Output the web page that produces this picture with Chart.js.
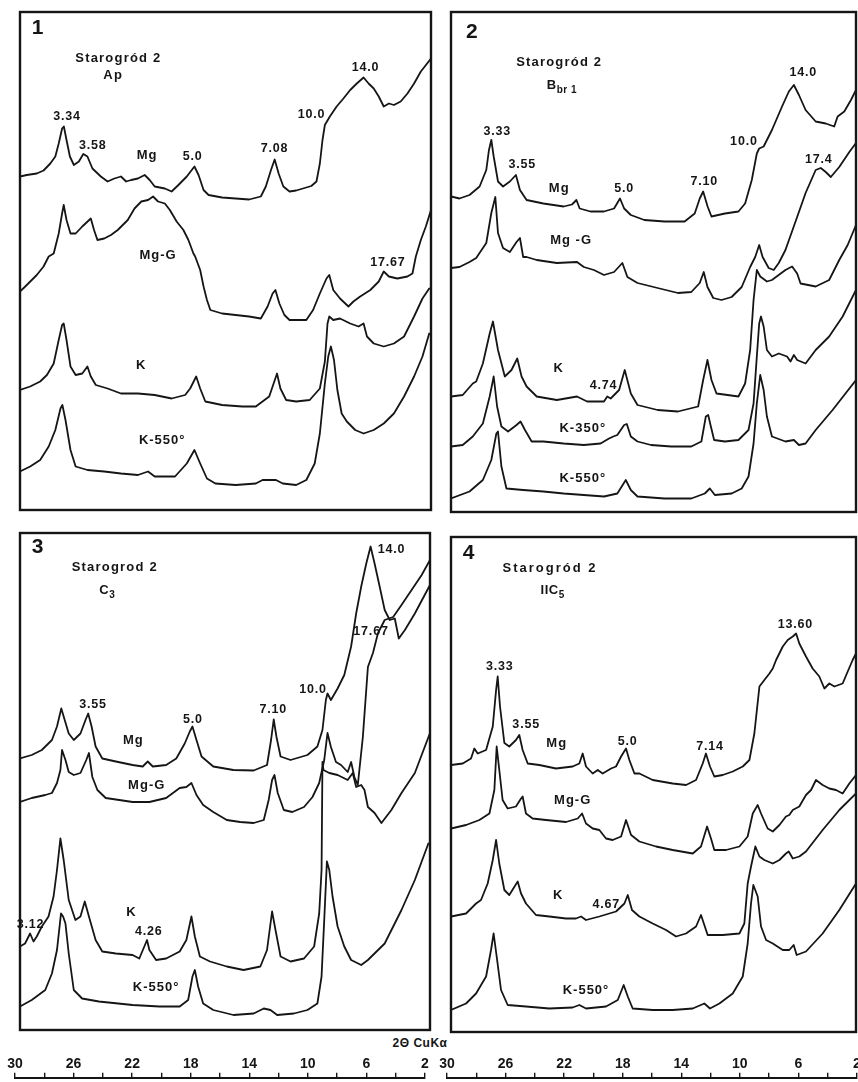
<!DOCTYPE html>
<html>
<head>
<meta charset="utf-8">
<title>Starogród 2 – X-ray diffractograms</title>
<script src="https://cdn.jsdelivr.net/npm/chart.js@4.4.1/dist/chart.umd.min.js"></script>
<style>
  html, body { margin: 0; padding: 0; background: #fff; }
  #fig { position: relative; width: 858px; height: 1082px; overflow: hidden; background: #fff; }
  #fig canvas { position: absolute; }
  #caption {
    position: absolute; left: 370px; top: 1036px; width: 100px; text-align: center;
    font: bold 12px "Liberation Sans", Arial, sans-serif; color: #151515; letter-spacing: 0.5px;
  }
</style>
</head>
<body>
<div id="fig"><div id="caption">2Θ CuKα</div></div>
<script>
// ---- Diffractogram traces: [2θ (deg, Cu Kα), relative intensity] ----

// Panel 1 – Starogród 2, Ap
const p1Mg = [[29.65,66.7],[29.19,67.0],[28.51,67.3],[28.05,67.9],[27.59,69.3],[27.25,70.7],[27.02,73.3],[26.79,76.3],[26.67,76.7],[26.49,74.0],[26.26,70.7],[25.99,69.0],[25.65,69.7],[25.35,71.2],[25.07,70.7],[24.73,68.3],[24.16,66.7],[23.70,65.7],[23.24,66.3],[22.79,66.7],[22.44,65.7],[22.10,66.0],[21.64,66.3],[21.18,67.0],[20.84,66.0],[20.50,64.7],[19.81,64.3],[19.35,63.7],[18.89,65.0],[18.32,66.7],[17.80,68.7],[17.52,67.0],[17.18,64.0],[16.84,63.0],[15.92,62.5],[15.00,62.3],[14.09,62.1],[13.29,62.7],[12.95,64.7],[12.60,68.0],[12.35,70.1],[12.08,67.3],[11.76,64.7],[11.34,63.7],[10.89,63.9],[10.43,64.3],[9.86,64.8],[9.51,65.7],[9.28,69.3],[9.10,74.0],[8.94,77.0],[8.60,78.7],[8.14,80.7],[7.68,82.3],[7.22,84.0],[6.77,85.3],[6.31,86.5],[5.97,85.3],[5.62,84.3],[5.28,82.7],[4.94,80.7],[4.59,81.3],[4.25,81.0],[3.79,81.7],[3.33,83.3],[2.88,85.3],[2.42,87.7],[1.73,90.3]];
const p1MgG = [[29.65,43.7],[29.19,45.0],[28.51,47.0],[28.05,48.7],[27.70,50.7],[27.36,51.3],[27.02,55.3],[26.79,59.3],[26.68,61.0],[26.49,58.0],[26.22,55.3],[25.87,55.3],[25.42,56.7],[24.84,58.3],[24.62,56.0],[24.39,54.0],[23.93,54.3],[23.47,55.0],[23.01,56.0],[22.33,58.0],[21.87,60.3],[21.41,61.7],[20.95,62.0],[20.61,62.7],[20.27,61.7],[19.81,61.3],[19.47,60.0],[19.01,57.7],[18.55,56.0],[18.21,54.0],[17.87,51.3],[17.75,50.7],[17.41,48.0],[17.18,44.7],[16.95,42.0],[16.72,40.0],[15.92,39.3],[15.00,39.0],[14.09,38.7],[13.29,38.3],[12.83,40.7],[12.49,43.3],[12.30,44.0],[12.03,41.3],[11.69,39.0],[11.34,38.0],[10.20,38.0],[9.74,40.0],[9.28,43.3],[8.83,46.3],[8.64,47.0],[8.37,44.0],[7.91,42.3],[7.34,40.7],[7.00,41.7],[6.54,42.7],[5.85,44.0],[5.28,45.7],[4.94,47.7],[4.59,46.7],[4.02,46.3],[3.33,46.7],[2.99,47.3],[2.76,50.7],[2.42,54.0],[2.08,56.7],[1.73,60.0]];
const p1K = [[29.65,24.0],[28.96,24.7],[28.28,25.7],[27.82,27.0],[27.36,29.3],[27.02,34.0],[26.79,37.0],[26.68,37.3],[26.49,34.0],[26.22,28.7],[25.87,27.0],[25.42,27.3],[25.07,28.7],[24.84,26.7],[24.50,25.0],[23.70,24.3],[22.79,23.3],[21.64,23.3],[20.50,23.0],[19.35,22.3],[18.43,23.0],[18.09,24.3],[17.68,26.7],[17.41,24.3],[17.06,21.7],[15.92,21.0],[14.55,20.7],[13.63,20.7],[12.72,22.7],[12.42,25.3],[12.19,27.3],[11.96,24.3],[11.57,22.0],[10.89,21.7],[9.97,22.0],[9.28,24.3],[8.94,29.7],[8.76,37.3],[8.64,38.7],[8.37,38.0],[7.91,38.3],[7.22,37.3],[6.65,36.7],[6.31,37.3],[6.08,34.7],[5.62,33.3],[4.94,32.7],[4.25,33.3],[3.56,34.7],[2.88,38.7],[2.31,42.3],[1.85,44.3]];
const p1K550 = [[29.65,7.7],[28.96,8.7],[28.28,10.0],[27.70,12.7],[27.25,16.0],[26.90,20.3],[26.77,21.0],[26.56,18.0],[26.22,12.0],[25.87,8.7],[25.07,8.0],[23.93,7.7],[22.79,7.3],[21.64,7.0],[20.95,7.7],[20.50,6.7],[19.12,6.7],[18.32,9.3],[17.80,12.0],[17.41,9.3],[16.95,6.3],[16.38,5.3],[15.00,5.0],[13.63,5.3],[13.17,6.0],[12.26,6.0],[11.80,5.3],[10.89,5.0],[10.20,6.0],[9.63,9.3],[9.28,15.3],[8.94,25.3],[8.71,30.7],[8.53,32.7],[8.32,30.0],[8.09,24.0],[7.80,19.3],[7.45,17.7],[6.88,16.0],[6.31,15.3],[5.62,16.0],[4.94,17.3],[4.25,19.3],[3.56,22.7],[2.88,26.7],[2.31,30.7],[1.85,35.3]];

// Panel 2 – Starogród 2, Bbr1
const p2Mg = [[29.47,63.1],[28.90,62.7],[28.22,63.4],[27.54,65.1],[27.09,68.4],[26.91,72.4],[26.75,74.4],[26.59,71.1],[26.30,66.1],[25.96,65.1],[25.50,66.1],[25.09,67.4],[24.82,64.4],[24.37,62.4],[23.24,61.7],[21.87,61.1],[21.31,61.5],[21.01,62.4],[20.79,60.7],[20.06,60.1],[19.15,60.1],[18.47,60.7],[18.07,62.7],[17.79,60.7],[17.34,59.4],[16.43,58.4],[15.07,58.1],[13.71,58.1],[13.03,59.7],[12.69,62.7],[12.46,64.1],[12.16,61.1],[11.90,59.1],[10.99,59.7],[10.08,60.1],[9.63,61.7],[9.18,66.4],[8.84,71.7],[8.68,72.7],[8.38,73.1],[7.82,76.4],[7.14,81.1],[6.68,84.1],[6.34,85.4],[6.00,83.4],[5.55,80.4],[4.87,78.1],[4.19,77.7],[3.62,77.1],[3.39,79.1],[2.94,80.1],[2.49,82.4],[2.15,84.4]];
const p2MgG = [[29.47,48.8],[28.90,49.0],[28.22,50.0],[27.77,50.8],[27.09,53.8],[26.75,59.8],[26.48,63.0],[26.30,55.8],[25.96,52.8],[25.50,52.0],[25.05,54.0],[24.82,54.8],[24.60,51.0],[24.37,51.0],[23.69,50.4],[22.33,49.8],[20.97,50.0],[20.51,49.0],[19.83,48.4],[19.15,47.4],[18.47,48.0],[17.91,49.8],[17.57,47.0],[16.89,45.8],[15.53,44.8],[14.16,43.8],[13.26,44.0],[12.69,45.8],[12.42,48.0],[12.17,45.0],[11.78,42.8],[11.22,42.4],[10.54,43.0],[9.86,45.0],[9.29,49.0],[8.95,51.0],[8.68,53.4],[8.45,51.0],[8.04,48.8],[7.70,48.4],[7.36,49.8],[6.91,52.4],[6.12,59.0],[5.55,63.8],[4.87,68.4],[4.53,68.8],[4.19,68.0],[3.85,67.0],[3.28,69.0],[2.60,72.0],[2.15,73.8]];
const p2K = [[29.47,23.1],[28.68,23.4],[28.00,25.7],[27.77,26.1],[27.32,29.7],[26.86,35.7],[26.64,38.1],[26.30,32.4],[25.84,27.1],[25.39,28.4],[25.00,30.7],[24.71,27.1],[24.37,25.1],[23.69,23.1],[22.33,22.4],[20.97,23.1],[20.29,22.1],[19.15,22.1],[18.93,23.1],[18.70,22.7],[18.13,24.4],[17.75,28.4],[17.34,23.7],[16.89,21.4],[15.53,20.4],[14.16,20.1],[12.80,21.1],[12.46,26.4],[12.17,30.4],[11.90,26.4],[11.56,23.7],[10.08,23.1],[9.63,25.7],[9.29,32.4],[9.06,42.4],[8.84,48.4],[8.61,47.1],[8.16,46.1],[7.82,46.4],[6.91,48.4],[6.46,49.1],[6.12,47.7],[5.89,45.7],[4.87,45.1],[3.96,46.4],[3.28,50.4],[2.71,53.4],[2.15,57.4]];
const p2K350 = [[29.47,13.1],[28.68,13.4],[28.00,15.1],[27.32,17.7],[26.86,23.1],[26.59,27.1],[26.36,21.1],[26.07,17.1],[25.62,16.1],[25.05,17.4],[24.78,18.1],[24.48,16.4],[24.03,14.1],[23.24,14.1],[21.87,13.7],[20.51,13.4],[19.38,13.7],[18.81,14.7],[18.52,15.1],[18.25,15.4],[17.79,17.4],[17.61,17.6],[17.34,15.1],[16.89,14.1],[15.98,13.4],[14.62,13.1],[13.26,13.1],[12.58,14.1],[12.28,19.1],[12.12,19.4],[11.94,17.1],[11.72,14.4],[10.99,14.1],[10.08,14.4],[9.40,16.4],[9.06,21.7],[8.84,31.1],[8.68,37.7],[8.56,39.1],[8.38,37.1],[8.16,32.4],[7.82,31.1],[7.36,31.7],[6.80,31.1],[6.57,30.1],[6.34,31.4],[6.12,30.4],[5.55,29.7],[4.87,32.4],[3.96,35.1],[3.05,39.1],[2.15,44.4]];
const p2K550 = [[29.47,2.7],[28.22,4.1],[27.32,6.4],[26.75,10.4],[26.41,15.7],[26.30,16.1],[26.07,9.1],[25.73,4.7],[24.60,4.4],[23.24,4.1],[21.87,3.7],[20.51,3.4],[19.15,3.1],[18.25,3.7],[17.68,6.4],[17.34,4.4],[16.89,3.1],[15.07,2.7],[13.26,2.7],[12.35,3.7],[12.01,4.7],[11.67,3.4],[10.54,3.7],[9.86,4.7],[9.40,7.1],[9.06,13.7],[8.84,21.7],[8.61,27.4],[8.38,24.4],[8.16,19.1],[7.82,15.1],[6.91,14.1],[6.34,14.4],[6.00,13.4],[5.55,13.7],[4.87,16.4],[3.73,20.4],[2.15,26.4]];

// Panel 3 – Starogrod 2, C3
const p3Mg = [[29.50,54.3],[28.71,55.0],[28.03,56.0],[27.35,58.0],[27.01,60.7],[26.72,64.3],[26.56,62.7],[26.22,59.3],[25.88,58.0],[25.43,59.3],[25.09,62.0],[24.91,63.3],[24.68,60.7],[24.41,56.7],[23.96,54.3],[23.05,53.7],[21.92,53.0],[21.24,52.7],[20.90,53.7],[20.56,52.7],[19.66,53.0],[18.98,54.3],[18.41,57.3],[18.07,59.7],[17.89,60.7],[17.62,58.0],[17.28,54.7],[16.49,52.7],[15.13,52.0],[13.77,51.9],[12.87,53.0],[12.60,58.0],[12.42,62.1],[12.24,58.7],[11.96,54.7],[11.29,54.0],[10.15,55.0],[9.48,56.7],[9.14,60.0],[8.91,66.0],[8.80,67.3],[8.57,66.0],[8.12,68.3],[7.67,71.0],[7.21,76.7],[6.87,83.3],[6.53,88.7],[6.19,93.3],[5.90,96.7],[5.63,93.3],[5.29,88.7],[4.95,84.0],[4.61,82.0],[4.27,82.3],[4.00,78.3],[3.59,80.0],[2.92,83.3],[1.90,89.0]];
const p3MgG = [[29.50,45.6],[28.71,46.4],[27.80,47.0],[27.35,47.4],[27.01,49.4],[26.78,52.0],[26.67,56.0],[26.44,54.0],[26.22,51.6],[25.88,51.0],[25.43,51.4],[25.04,54.0],[24.86,55.4],[24.63,50.6],[24.29,48.0],[23.73,46.4],[22.82,46.0],[21.92,45.6],[20.79,45.6],[19.66,46.4],[18.75,48.4],[18.30,48.6],[17.96,49.4],[17.62,47.0],[17.17,45.0],[16.49,43.6],[15.58,42.0],[14.68,41.6],[13.77,41.4],[13.09,42.0],[12.76,46.0],[12.53,50.0],[12.37,51.0],[12.15,47.4],[11.74,44.0],[11.17,43.6],[10.38,44.6],[9.81,46.6],[9.36,49.4],[9.02,54.0],[8.80,59.4],[8.57,56.6],[8.23,53.6],[7.89,53.0],[7.44,51.6],[7.21,53.6],[6.99,50.6],[6.76,49.0],[6.42,58.6],[6.08,72.6],[5.74,75.4],[5.40,79.4],[4.95,82.0],[4.38,82.6],[3.82,85.0],[3.14,88.0],[2.46,91.0],[1.90,94.0]];
const p3K = [[29.50,16.7],[29.16,17.3],[28.82,19.3],[28.59,17.7],[28.37,18.7],[28.03,20.7],[27.58,22.7],[27.24,26.7],[27.01,32.0],[26.78,38.3],[26.56,34.0],[26.22,26.0],[25.77,22.0],[25.43,22.7],[25.14,25.7],[24.86,22.7],[24.41,18.0],[23.96,15.7],[23.05,15.3],[21.92,15.0],[21.47,14.3],[21.13,16.7],[20.95,18.0],[20.79,16.0],[20.34,14.0],[19.66,14.3],[18.75,15.7],[18.30,18.0],[17.96,22.7],[17.73,18.7],[17.39,14.7],[16.71,13.7],[15.58,12.7],[14.45,12.0],[13.32,12.7],[12.87,16.0],[12.53,23.7],[12.30,20.0],[11.96,14.7],[11.29,13.7],[10.38,14.3],[9.70,16.7],[9.36,23.3],[9.20,32.0],[9.14,53.6],[9.07,52.0],[8.68,51.4],[8.12,51.0],[7.44,50.0],[7.10,51.4],[6.87,48.6],[6.53,49.0],[6.31,48.0],[6.08,44.6],[5.63,43.4],[5.17,41.4],[4.50,44.0],[3.82,47.4],[2.92,51.4],[1.90,59.4]];
const p3K550 = [[29.50,4.7],[28.71,6.0],[27.80,8.0],[27.35,11.3],[27.01,16.0],[26.74,23.3],[26.60,22.7],[26.44,21.3],[26.22,15.3],[25.88,8.0],[25.32,6.3],[24.19,5.7],[21.92,5.0],[20.11,4.7],[18.75,4.7],[18.18,6.0],[17.89,10.7],[17.73,12.0],[17.51,8.7],[17.17,5.3],[16.49,4.0],[15.13,3.0],[13.77,3.3],[13.09,4.3],[12.64,4.0],[12.19,3.0],[11.06,3.3],[10.15,4.0],[9.48,5.3],[9.20,10.7],[9.02,22.0],[8.84,33.7],[8.68,32.0],[8.46,26.7],[8.12,20.7],[7.67,16.7],[7.21,14.0],[6.53,13.0],[6.08,14.0],[4.95,17.3],[3.82,24.0],[2.92,30.0],[2.01,37.3]];

// Panel 4 – Starogród 2, IIC5
const p4Mg = [[29.97,53.4],[29.16,53.7],[28.59,54.7],[28.36,56.7],[28.13,55.7],[27.55,56.4],[27.09,61.1],[26.86,68.4],[26.75,71.1],[26.59,65.1],[26.29,57.8],[25.95,57.1],[25.49,58.4],[25.26,59.4],[25.03,56.4],[24.68,53.7],[23.88,53.4],[22.73,52.7],[21.58,53.1],[21.12,53.7],[20.89,55.7],[20.66,53.1],[20.20,51.7],[19.85,52.4],[19.51,51.7],[18.93,52.7],[18.59,53.1],[18.24,55.1],[17.90,56.7],[17.67,54.4],[17.32,51.7],[16.98,51.7],[16.06,50.4],[14.68,49.7],[13.76,49.4],[13.07,50.4],[12.61,53.7],[12.39,55.7],[12.11,53.1],[11.81,51.1],[11.23,51.4],[10.54,52.1],[9.85,53.1],[9.39,54.4],[9.05,59.7],[8.70,69.1],[8.36,70.4],[8.01,71.7],[7.78,72.7],[7.55,74.4],[7.09,77.1],[6.75,78.4],[6.40,79.1],[6.17,79.7],[5.95,77.7],[5.49,75.1],[5.03,72.7],[4.57,71.1],[4.22,68.7],[3.88,69.7],[3.53,69.1],[2.96,69.7],[2.61,72.1],[2.27,74.4],[2.04,75.7]];
const p4MgG = [[29.97,40.7],[28.93,41.4],[28.01,42.4],[27.32,43.7],[26.98,48.4],[26.82,57.1],[26.64,52.4],[26.41,46.4],[26.06,44.7],[25.49,45.1],[25.14,46.7],[25.03,47.1],[24.80,43.7],[24.34,42.7],[23.42,42.4],[22.04,42.0],[21.23,42.7],[20.93,43.7],[20.66,41.7],[20.20,40.7],[19.74,40.4],[19.28,38.7],[18.82,38.4],[18.24,39.1],[17.90,42.4],[17.55,39.4],[16.98,38.1],[15.83,37.1],[14.68,36.4],[13.30,35.7],[12.73,37.1],[12.31,41.1],[12.04,38.7],[11.81,36.4],[11.00,36.4],[10.08,37.1],[9.51,39.1],[9.16,43.7],[8.82,45.4],[8.59,43.7],[8.13,40.7],[7.78,40.1],[7.32,41.4],[6.87,43.1],[6.64,43.4],[6.40,44.4],[5.95,45.1],[5.49,47.4],[5.14,48.4],[4.80,50.4],[4.34,49.4],[3.88,48.7],[3.42,48.4],[2.96,47.7],[2.50,49.7],[2.04,51.4]];
const p4K = [[29.97,23.1],[28.93,23.7],[28.24,25.7],[27.90,26.4],[27.44,29.7],[27.09,34.4],[26.86,38.4],[26.64,33.7],[26.29,28.4],[25.95,27.4],[25.37,30.1],[25.14,27.7],[24.80,25.7],[24.11,23.4],[23.19,23.1],[22.04,22.7],[21.35,22.7],[21.00,23.1],[20.66,22.4],[19.74,23.1],[18.59,24.1],[18.01,25.7],[17.78,27.4],[17.49,24.4],[16.98,23.1],[16.06,21.7],[15.14,20.4],[14.45,19.1],[13.76,19.7],[13.07,21.1],[12.73,23.4],[12.50,21.4],[12.27,19.4],[11.23,19.4],[10.08,19.7],[9.74,21.7],[9.51,29.7],[9.28,33.1],[8.98,37.1],[8.70,35.1],[8.36,34.4],[7.78,33.7],[7.32,34.4],[6.87,35.7],[6.68,36.1],[6.40,34.7],[5.95,35.1],[5.49,36.1],[4.34,40.4],[3.19,44.4],[2.04,47.7]];
const p4K550 = [[29.97,4.4],[28.93,5.7],[28.24,7.7],[27.55,11.1],[27.21,16.4],[27.03,19.7],[26.82,15.1],[26.52,8.4],[26.06,5.4],[24.80,5.1],[23.19,4.7],[21.58,4.9],[21.12,5.4],[20.66,4.7],[19.28,5.1],[18.47,6.4],[18.06,9.4],[17.78,7.1],[17.44,4.7],[16.06,4.4],[14.68,4.4],[13.30,4.7],[12.50,5.7],[12.11,4.7],[11.46,5.7],[10.54,7.7],[9.85,11.1],[9.51,17.7],[9.28,25.7],[9.12,29.4],[8.82,27.1],[8.59,21.1],[8.24,18.4],[7.78,17.7],[7.09,16.4],[6.64,16.4],[6.34,17.4],[6.13,15.4],[5.49,16.1],[4.34,19.7],[3.19,24.4],[2.04,29.7]];

// d-spacings (Å) marked on each panel
const p1Peaks = ['3.34', '3.58', '5.0', '7.08', '10.0', '14.0', '17.67'];
const p2Peaks = ['3.33', '3.55', '5.0', '7.10', '10.0', '14.0', '17.4', '4.74'];
const p3Peaks = ['3.55', '5.0', '7.10', '10.0', '14.0', '17.67', '3.12', '4.26'];
const p4Peaks = ['3.33', '3.55', '5.0', '7.14', '13.60', '4.67'];

// 2θ scale labels
const axisLabels = [30, 26, 22, 18, 14, 10, 6, 2];

// ---- drawing ----
const FONT = '"Liberation Sans", Arial, Helvetica, sans-serif';
const INK = '#151515';
const LAMBDA = 1.5406; // Cu Kα wavelength, Å
const bragg = d => 2 * Math.asin(LAMBDA / (2 * d)) * 180 / Math.PI;
const fig = document.getElementById('fig');

function peakHeight(data, x0) {
  let best = null;
  for (const [x, y] of data) {
    if (Math.abs(x - x0) <= 0.5 && (best === null || y > best)) best = y;
  }
  if (best !== null) return best;
  for (let i = 0; i < data.length - 1; i++) {
    const [xa, ya] = data[i], [xb, yb] = data[i + 1];
    if (x0 <= xa && x0 >= xb) return ya + (yb - ya) * (xa - x0) / (xa - xb);
  }
  return 0;
}

function drawText(ctx, item, px, py) {
  const size = item.size || 13;
  const subSize = Math.round(size * 0.8);
  ctx.letterSpacing = (item.ls ?? 1) + 'px';
  ctx.font = `bold ${size}px ${FONT}`;
  const wMain = ctx.measureText(item.t).width;
  let wSub = 0;
  if (item.sub) {
    ctx.font = `bold ${subSize}px ${FONT}`;
    wSub = ctx.measureText(item.sub).width;
  }
  const x0 = item.align === 'left' ? px : px - (wMain + wSub) / 2;
  ctx.textAlign = 'left';
  ctx.textBaseline = 'middle';
  ctx.fillStyle = INK;
  ctx.font = `bold ${size}px ${FONT}`;
  ctx.fillText(item.t, x0, py);
  if (item.sub) {
    ctx.font = `bold ${subSize}px ${FONT}`;
    ctx.fillText(item.sub, x0 + wMain, py + size * 0.38);
  }
}

const framePlugin = {
  id: 'frame',
  afterDraw(chart) {
    const { ctx, chartArea: a } = chart;
    ctx.save();
    ctx.strokeStyle = INK;
    ctx.lineWidth = 2.4;
    ctx.strokeRect(a.left, a.top, a.right - a.left, a.bottom - a.top);
    ctx.restore();
  }
};

function panel(cfg) {
  const pad = 4;
  const { box } = cfg;
  const cv = document.createElement('canvas');
  cv.width = box.w + 2 * pad;
  cv.height = box.h + 2 * pad;
  cv.style.left = (box.x - pad) + 'px';
  cv.style.top = (box.y - pad) + 'px';
  fig.appendChild(cv);

  const byName = {};
  cfg.series.forEach(s => { byName[s.name] = s.data; });

  const notes = {
    id: 'notes',
    afterDatasetsDraw(chart) {
      const { ctx, scales: { x, y } } = chart;
      ctx.save();
      // d-spacing labels, placed over the peak at the Bragg angle of each d
      cfg.peaks.forEach((d, i) => {
        const p = cfg.peakPlace[i];
        const tt = bragg(parseFloat(d));
        const h = peakHeight(byName[p.on], tt);
        drawText(ctx, { t: d, size: 12.5, ls: 0.8 },
          x.getPixelForValue(tt) + p.dx, y.getPixelForValue(h) + p.dy);
      });
      // titles and trace names
      cfg.texts.forEach(t => {
        drawText(ctx, t, x.getPixelForValue(t.x), y.getPixelForValue(t.y));
      });
      ctx.restore();
    }
  };

  new Chart(cv, {
    type: 'line',
    data: {
      datasets: cfg.series.map(s => ({
        label: s.name,
        data: s.data.map(([x, y]) => ({ x, y })),
        borderColor: INK,
        borderWidth: 1.8,
        borderJoinStyle: 'round',
        borderCapStyle: 'round',
        pointRadius: 0,
        tension: 0,
        fill: false
      }))
    },
    options: {
      responsive: false,
      animation: false,
      events: [],
      layout: { padding: pad },
      plugins: { legend: { display: false }, tooltip: { enabled: false } },
      scales: {
        x: { type: 'linear', min: cfg.xRange[0], max: cfg.xRange[1], reverse: true, display: false },
        y: { type: 'linear', min: 0, max: box.h / 5, display: false }
      }
    },
    plugins: [framePlugin, notes]
  });
}

// 2θ scale strip: axis line with upward ticks every 2°, labels every 4°
function bottomAxis(left, right, lineY) {
  const padX = 14;
  const cv = document.createElement('canvas');
  cv.width = (right - left) + 2 * padX;
  cv.height = 80;
  cv.style.left = (left - padX) + 'px';
  cv.style.top = '0px';
  fig.appendChild(cv);
  const chart = new Chart(cv, {
    type: 'line',
    data: { datasets: [] },
    options: {
      responsive: false,
      animation: false,
      events: [],
      layout: { padding: { left: padX, right: padX, top: 0, bottom: 0 } },
      plugins: { legend: { display: false }, tooltip: { enabled: false } },
      scales: {
        x: {
          type: 'linear', position: 'top', min: 2, max: 30, reverse: true,
          ticks: {
            stepSize: 2, autoSkip: false, maxRotation: 0, padding: 0, color: INK,
            font: { family: FONT, size: 14, weight: 'bold' },
            callback: v => axisLabels.includes(v) ? String(v) : ''
          },
          grid: { drawOnChartArea: false, drawTicks: true, tickLength: 5, color: INK, lineWidth: 1.4 },
          border: { display: true, color: INK, width: 2 }
        },
        y: { display: false }
      }
    }
  });
  cv.style.top = (lineY - chart.scales.x.bottom) + 'px';
}

panel({
  box: { x: 20, y: 12, w: 411, h: 498 },
  xRange: [1.73, 29.65],
  series: [
    { name: 'Mg', data: p1Mg }, { name: 'Mg-G', data: p1MgG },
    { name: 'K', data: p1K }, { name: 'K-550', data: p1K550 }
  ],
  peaks: p1Peaks,
  peakPlace: [
    { on: 'Mg', dx: 3, dy: -10 }, { on: 'Mg', dx: 2, dy: -8 }, { on: 'Mg', dx: -3, dy: -10 },
    { on: 'Mg', dx: 2, dy: -11 }, { on: 'Mg', dx: -15, dy: -2 }, { on: 'Mg', dx: 2, dy: -10 },
    { on: 'Mg-G', dx: 5, dy: -9 }
  ],
  texts: [
    { t: '1', x: 28.85, y: 96.4, size: 21, align: 'left', ls: 0 },
    { t: 'Starogród 2', x: 22.97, y: 90.4, ls: 1.2 },
    { t: 'Ap', x: 23.31, y: 87.0, ls: 1.5 },
    { t: 'Mg', x: 21.02, y: 71.0 },
    { t: 'Mg-G', x: 20.27, y: 51.0 },
    { t: 'K', x: 21.41, y: 29.0 },
    { t: 'K-550°', x: 19.99, y: 14.0 }
  ]
});

panel({
  box: { x: 451, y: 12, w: 405, h: 500 },
  xRange: [2.15, 29.47],
  series: [
    { name: 'Mg', data: p2Mg }, { name: 'Mg-G', data: p2MgG },
    { name: 'K', data: p2K }, { name: 'K-350', data: p2K350 }, { name: 'K-550', data: p2K550 }
  ],
  peaks: p2Peaks,
  peakPlace: [
    { on: 'Mg', dx: 6, dy: -8 }, { on: 'Mg', dx: 6, dy: -10 }, { on: 'Mg', dx: -1, dy: -10 },
    { on: 'Mg', dx: 1, dy: -10 }, { on: 'Mg', dx: -13, dy: -5 }, { on: 'Mg', dx: 9, dy: -12 },
    { on: 'Mg-G', dx: 6, dy: -10 }, { on: 'K', dx: -7, dy: -11 }
  ],
  texts: [
    { t: '2', x: 28.45, y: 96.0, size: 21, align: 'left', ls: 0 },
    { t: 'Starogród 2', x: 22.17, y: 90.0, ls: 1.2 },
    { t: 'B', sub: 'br 1', x: 21.99, y: 85.4, ls: 0.5 },
    { t: 'Mg', x: 22.17, y: 64.7 },
    { t: 'Mg -G', x: 21.37, y: 54.4 },
    { t: 'K', x: 22.21, y: 28.7 },
    { t: 'K-350°', x: 20.58, y: 16.8 },
    { t: 'K-550°', x: 20.58, y: 6.8 }
  ]
});

panel({
  box: { x: 20, y: 533, w: 410, h: 497 },
  xRange: [1.90, 29.50],
  series: [
    { name: 'Mg', data: p3Mg }, { name: 'Mg-G', data: p3MgG },
    { name: 'K', data: p3K }, { name: 'K-550', data: p3K550 }
  ],
  peaks: p3Peaks,
  peakPlace: [
    { on: 'Mg', dx: 7, dy: -9 }, { on: 'Mg', dx: -2, dy: -7 }, { on: 'Mg', dx: 0, dy: -10 },
    { on: 'Mg', dx: -14, dy: -4 }, { on: 'Mg', dx: 27, dy: 3 }, { on: 'Mg-G', dx: -13, dy: 12 },
    { on: 'K', dx: -3, dy: -9 }, { on: 'K', dx: 0, dy: -8 }
  ],
  texts: [
    { t: '3', x: 28.71, y: 96.6, size: 21, align: 'left', ls: 0 },
    { t: 'Starogrod 2', x: 23.12, y: 92.6, ls: 1.2 },
    { t: 'C', sub: '3', x: 23.62, y: 88.0, ls: 0.5 },
    { t: 'Mg', x: 21.87, y: 58.0 },
    { t: 'Mg-G', x: 20.97, y: 49.0 },
    { t: 'K', x: 21.99, y: 23.6 },
    { t: 'K-550°', x: 20.34, y: 8.6 }
  ]
});

panel({
  box: { x: 451, y: 537, w: 405, h: 495 },
  xRange: [2.04, 29.97],
  series: [
    { name: 'Mg', data: p4Mg }, { name: 'Mg-G', data: p4MgG },
    { name: 'K', data: p4K }, { name: 'K-550', data: p4K550 }
  ],
  peaks: p4Peaks,
  peakPlace: [
    { on: 'Mg', dx: 2, dy: -10 }, { on: 'Mg', dx: 4, dy: -10 }, { on: 'Mg', dx: -1, dy: -7 },
    { on: 'Mg', dx: 4, dy: -7 }, { on: 'Mg', dx: 4, dy: -9 }, { on: 'K', dx: -4, dy: -7 }
  ],
  texts: [
    { t: '4', x: 29.16, y: 95.8, size: 21, align: 'left', ls: 0 },
    { t: 'Starogród 2', x: 23.14, y: 92.8, ls: 2 },
    { t: 'IIC', sub: '5', x: 22.96, y: 88.4, ls: 0.5 },
    { t: 'Mg', x: 22.68, y: 57.8 },
    { t: 'Mg-G', x: 21.58, y: 46.4 },
    { t: 'K', x: 22.57, y: 27.4 },
    { t: 'K-550°', x: 20.66, y: 8.4 }
  ]
});

bottomAxis(15, 425, 1078);
bottomAxis(447, 857, 1078);
</script>
</body>
</html>
